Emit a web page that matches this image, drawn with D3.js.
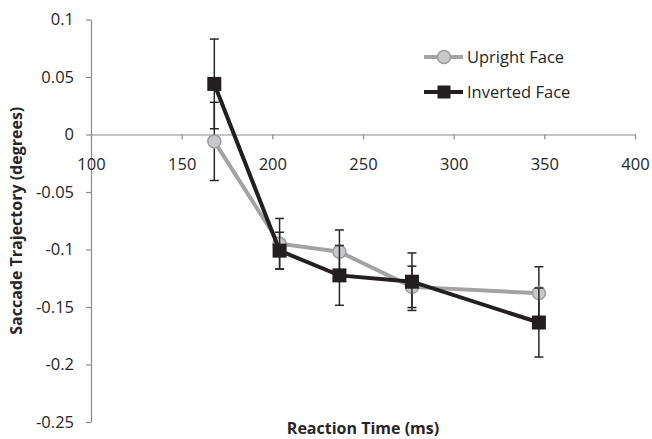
<!DOCTYPE html>
<html>
<head>
<meta charset="utf-8">
<script src="https://cdn.jsdelivr.net/npm/d3@7"></script>
<style>
  body { margin: 0; background: #fff; }
  svg { display: block; font-family: "Open Sans", sans-serif; }
  .tick text { fill: #262626; font-size: 16.5px; }
  .axis-title { font-weight: bold; fill: #262626; font-size: 16px; }
  .legend text { fill: #262626; font-size: 16.5px; }
</style>
</head>
<body>
<svg id="chart"></svg>
<script>
// Reaction time bins (ms)
const reactionTimes = [168, 204, 237, 277, 347];

// Saccade trajectory (degrees) and error bar half-widths
const uprightMeans = [-0.006, -0.095, -0.102, -0.1325, -0.138];
const uprightErrors = [0.034, 0.022, 0.019, 0.018, 0.023];
const invertedMeans = [0.044, -0.101, -0.1225, -0.128, -0.1635];
const invertedErrors = [0.039, 0.016, 0.026, 0.025, 0.030];

const xTicks = [100, 150, 200, 250, 300, 350, 400];
const yTicks = [0.1, 0.05, 0, -0.05, -0.1, -0.15, -0.2, -0.25];
const yTickLabels = ['0.1', '0.05', '0', '-0.05', '-0.1', '-0.15', '-0.2', '-0.25'];

const seriesNames = ['Upright Face', 'Inverted Face'];

const width = 652, height = 439;

const svg = d3.select('#chart')
    .attr('width', width)
    .attr('height', height);

const xScale = d3.scaleLinear()
    .domain([100, 400])
    .range([91, 635]);

const yScale = d3.scaleLinear()
    .domain([-0.25, 0.1])
    .range([422, 19.5]);

const axisColor = '#8c8c8c';

// y axis
const yAxisG = svg.append('g')
    .attr('class', 'axis y-axis')
    .attr('transform', `translate(${xScale(100)},0)`)
    .call(d3.axisLeft(yScale)
        .tickValues(yTicks)
        .tickSize(5)
        .tickSizeOuter(0)
        .tickPadding(12)
        .tickFormat((d, i) => yTickLabels[i]));
yAxisG.selectAll('.domain, line').attr('stroke', axisColor).attr('stroke-width', 1.2);
yAxisG.selectAll('text').attr('font-family', '"Open Sans", sans-serif');

// x axis sits on y = 0
const xAxisG = svg.append('g')
    .attr('class', 'axis x-axis')
    .attr('transform', `translate(0,${yScale(0)})`)
    .call(d3.axisBottom(xScale)
        .tickValues(xTicks)
        .tickSize(5)
        .tickSizeOuter(0)
        .tickPadding(19));
xAxisG.selectAll('.domain, line').attr('stroke', axisColor).attr('stroke-width', 1.2);
xAxisG.selectAll('text').attr('font-family', '"Open Sans", sans-serif');

// axis titles
svg.append('text')
    .attr('class', 'axis-title')
    .attr('x', (xScale(100) + xScale(400)) / 2)
    .attr('y', 434)
    .attr('text-anchor', 'middle')
    .text('Reaction Time (ms)');

svg.append('text')
    .attr('class', 'axis-title')
    .attr('transform', `translate(22,${(yScale(0.1) + yScale(-0.25)) / 2}) rotate(-90)`)
    .attr('text-anchor', 'middle')
    .text('Saccade Trajectory (degrees)');

const upright = reactionTimes.map((t, i) => ({x: t, y: uprightMeans[i], e: uprightErrors[i]}));
const inverted = reactionTimes.map((t, i) => ({x: t, y: invertedMeans[i], e: invertedErrors[i]}));

const line = d3.line()
    .x(d => xScale(d.x))
    .y(d => yScale(d.y));

function drawErrorBars(g, data) {
    const bars = g.selectAll('.err')
        .data(data)
        .join('g')
        .attr('class', 'err')
        .attr('stroke', '#2b2627')
        .attr('stroke-width', 1.5);
    bars.append('line')
        .attr('x1', d => xScale(d.x)).attr('x2', d => xScale(d.x))
        .attr('y1', d => yScale(d.y + d.e)).attr('y2', d => yScale(d.y - d.e));
    bars.append('line')
        .attr('x1', d => xScale(d.x) - 4.5).attr('x2', d => xScale(d.x) + 4.5)
        .attr('y1', d => yScale(d.y + d.e)).attr('y2', d => yScale(d.y + d.e));
    bars.append('line')
        .attr('x1', d => xScale(d.x) - 4.5).attr('x2', d => xScale(d.x) + 4.5)
        .attr('y1', d => yScale(d.y - d.e)).attr('y2', d => yScale(d.y - d.e));
}

// Upright series
const upG = svg.append('g');
drawErrorBars(upG, upright);
upG.append('path')
    .datum(upright)
    .attr('d', line)
    .attr('fill', 'none')
    .attr('stroke', '#a3a3a3')
    .attr('stroke-width', 4);
upG.selectAll('circle')
    .data(upright)
    .join('circle')
    .attr('cx', d => xScale(d.x))
    .attr('cy', d => yScale(d.y))
    .attr('r', 6.5)
    .attr('fill', '#c8c8ca')
    .attr('stroke', '#9d9d9d')
    .attr('stroke-width', 1.5);

// Inverted series
const invG = svg.append('g');
drawErrorBars(invG, inverted);
invG.append('path')
    .datum(inverted)
    .attr('d', line)
    .attr('fill', 'none')
    .attr('stroke', '#231f20')
    .attr('stroke-width', 4);
invG.selectAll('rect')
    .data(inverted)
    .join('rect')
    .attr('x', d => xScale(d.x) - 7)
    .attr('y', d => yScale(d.y) - 7)
    .attr('width', 14)
    .attr('height', 14)
    .attr('fill', '#231f20');

// legend
const legend = svg.append('g').attr('class', 'legend');
const legendY = [57, 92];
seriesNames.forEach((name, i) => {
    const g = legend.append('g').attr('transform', `translate(424,${legendY[i]})`);
    g.append('line')
        .attr('x1', 0).attr('x2', 39)
        .attr('stroke', i === 0 ? '#a3a3a3' : '#231f20')
        .attr('stroke-width', 4);
    if (i === 0) {
        g.append('circle')
            .attr('cx', 20).attr('r', 6.5)
            .attr('fill', '#c8c8ca').attr('stroke', '#9d9d9d').attr('stroke-width', 1.5);
    } else {
        g.append('rect')
            .attr('x', 13.5).attr('y', -6.5).attr('width', 13).attr('height', 13)
            .attr('fill', '#231f20');
    }
    g.append('text')
        .attr('x', 43)
        .attr('y', 6)
        .text(name);
});
</script>
</body>
</html>
